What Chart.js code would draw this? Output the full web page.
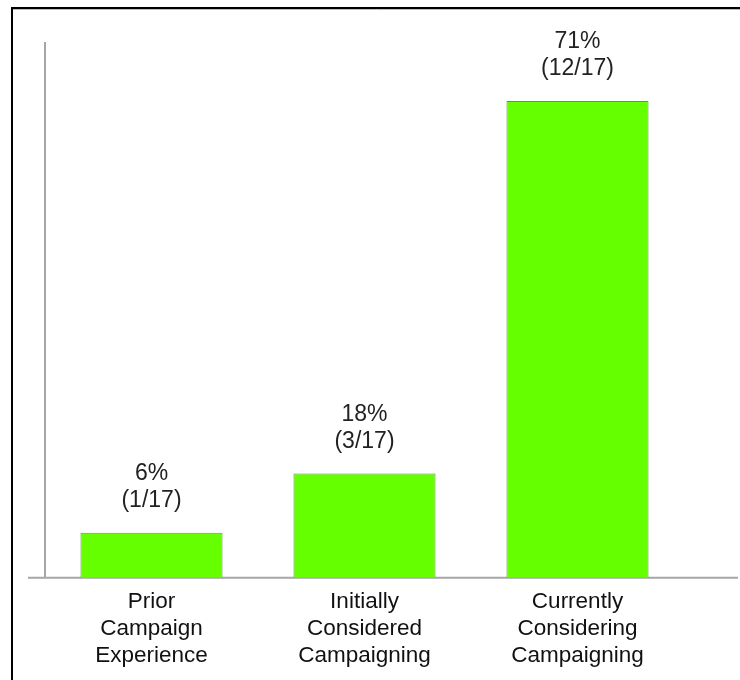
<!DOCTYPE html>
<html>
<head>
<meta charset="utf-8">
<script src="https://cdn.jsdelivr.net/npm/chart.js@4/dist/chart.umd.min.js"></script>
<style>
  html, body { margin: 0; padding: 0; background: #fff; }
  #wrap { width: 740px; height: 680px; }
</style>
</head>
<body>
<div id="wrap"><canvas id="campaignChart" width="740" height="680"></canvas></div>
<script>
// categories (multi-line labels under the bars)
const categories = [
    ["Prior", "Campaign", "Experience"],
    ["Initially", "Considered", "Campaigning"],
    ["Currently", "Considering", "Campaigning"]
];
// bar heights as drawn in the picture (percent scale)
const barValues = [6.7, 15.5, 71];
// labels printed above the bars
const pctLabels = ["6%", "18%", "71%"];
const countLabels = ["(1/17)", "(3/17)", "(12/17)"];

const FONT = "'Liberation Sans', Arial, sans-serif";
const Y_MAX = 79.8;

// frame, axis line and baseline
const framePlugin = {
    id: "frame",
    beforeDraw(chart) {
        const c = chart.ctx;
        const w = chart.width, h = chart.height;
        c.save();
        c.strokeStyle = "#000";
        c.lineWidth = 2;
        c.beginPath();
        c.moveTo(12, h);
        c.lineTo(12, 8);
        c.lineTo(w, 8);
        c.stroke();
        c.strokeStyle = "#bbb";
        c.lineWidth = 1;
        c.beginPath();
        c.moveTo(13, 9.5);
        c.lineTo(w, 9.5);
        c.stroke();
        c.restore();
    },
    beforeDatasetsDraw(chart) {
        const c = chart.ctx;
        const y0 = chart.scales.y.getPixelForValue(0);
        const yTop = chart.scales.y.getPixelForValue(Y_MAX);
        const xLeft = chart.chartArea.left;
        c.save();
        c.strokeStyle = "#a6a6a6";
        c.lineWidth = 2;
        c.beginPath();
        c.moveTo(xLeft, yTop);
        c.lineTo(xLeft, y0);
        c.moveTo(28, y0);
        c.lineTo(738, y0);
        c.stroke();
        c.restore();
    }
};

// percent and count above each bar
const valueLabels = {
    id: "valueLabels",
    afterDatasetsDraw(chart) {
        const c = chart.ctx;
        const meta = chart.getDatasetMeta(0);
        c.save();
        c.fillStyle = "#222";
        c.font = "23px " + FONT;
        c.textAlign = "center";
        c.textBaseline = "middle";
        meta.data.forEach(function (bar, i) {
            c.fillText(pctLabels[i], bar.x, bar.y - 59);
            c.fillText(countLabels[i], bar.x, bar.y - 32);
        });
        c.restore();
    }
};

const ctx = document.getElementById("campaignChart").getContext("2d");
new Chart(ctx, {
    type: "bar",
    data: {
        labels: categories,
        datasets: [{
            data: barValues,
            backgroundColor: "#66ff00",
            borderColor: "#58a030",
            borderWidth: 1,
            barPercentage: 0.667,
            categoryPercentage: 1
        }]
    },
    options: {
        responsive: false,
        animation: false,
        layout: {
            padding: { left: 45, right: 56, top: 42, bottom: 0 }
        },
        plugins: {
            legend: { display: false },
            tooltip: { enabled: false }
        },
        scales: {
            x: {
                grid: { display: false, drawTicks: false },
                border: { display: false },
                ticks: {
                    padding: 10,
                    color: "#111",
                    font: { family: FONT, size: 22.5, lineHeight: 1.22 }
                }
            },
            y: {
                display: false,
                min: 0,
                max: Y_MAX
            }
        }
    },
    plugins: [framePlugin, valueLabels]
});
</script>
</body>
</html>
